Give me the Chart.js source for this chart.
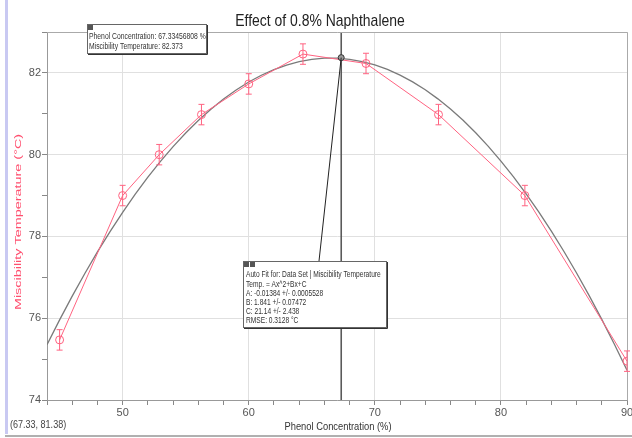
<!DOCTYPE html>
<html><head><meta charset="utf-8">
<script src="https://cdn.jsdelivr.net/npm/chart.js@4.4.1/dist/chart.umd.min.js"></script>
<style>html,body{margin:0;padding:0;background:#fff}#wrap{width:632px;height:438px;position:relative}canvas{display:block}</style>
</head><body><div id="wrap"><canvas id="c" width="632" height="438"></canvas></div>
<script>
// ---- data ----
const phenolConc = [45.0, 50.0, 52.9, 56.25, 60.0, 64.3, 69.3, 75.05, 81.9, 90.0];
const missTemp   = [75.47, 79.0, 80.0, 80.98, 81.73, 82.46, 82.23, 80.98, 79.0, 74.95];
const tempErr    = [0.25, 0.25, 0.25, 0.25, 0.25, 0.25, 0.25, 0.25, 0.25, 0.25];
// quadratic auto-fit coefficients printed on the chart
const fitA = -0.01384, fitB = 1.841, fitC = 21.14;
const fitXs = [44,45,46,47,48,49,50,51,52,53,54,55,56,57,58,59,60,61,62,63,64,65,66,67,68,69,70,71,72,73,74,75,76,77,78,79,80,81,82,83,84,85,86,87,88,89,90];
const cursorX = 67.33456808, cursorY = 82.373;
const xMajorTicks = [50, 60, 70, 80, 90];
const yMajorTicks = [74, 76, 78, 80, 82];
const titleText = 'Effect of 0.8% Naphthalene';
const xTitle = 'Phenol Concentration (%)';
const yTitle = 'Miscibility Temperature (°C)';
const cursorLines = ['Phenol Concentration: 67.33456808 %', 'Miscibility Temperature: 82.373'];
const fitLines = ['Auto Fit for: Data Set | Miscibility Temperature', 'Temp. = Ax^2+Bx+C', 'A: -0.01384 +/- 0.0005528', 'B: 1.841 +/- 0.07472', 'C: 21.14 +/- 2.438', 'RMSE: 0.3128 °C'];
const coordText = '(67.33, 81.38)';

const RED = '#ff6381';
const fitData = fitXs.map(x => ({x: x, y: fitA * x * x + fitB * x + fitC}));
const seriesData = phenolConc.map((x, i) => ({x: x, y: missTemp[i]}));

function txt(ctx, s, x, y, size, color, align, sx) {
  ctx.save();
  ctx.translate(x, y);
  ctx.scale(sx, 1);
  ctx.font = size + 'px Arial, "Liberation Sans", sans-serif';
  ctx.fillStyle = color;
  ctx.textAlign = align;
  ctx.textBaseline = 'middle';
  ctx.fillText(s, 0, 0);
  ctx.restore();
}
function box(ctx, l, t, r, b, icons) {
  ctx.save();
  ctx.fillStyle = '#fff';
  ctx.fillRect(l, t, r - l, b - t);
  ctx.strokeStyle = '#666';
  ctx.lineWidth = 1;
  ctx.strokeRect(l + 0.5, t + 0.5, r - l, b - t);
  ctx.strokeStyle = '#333';
  ctx.beginPath();
  ctx.moveTo(r + 1.5, t + 1); ctx.lineTo(r + 1.5, b + 1.5); ctx.lineTo(l + 1, b + 1.5);
  ctx.stroke();
  ctx.fillStyle = '#555';
  for (let i = 0; i < icons; i++) ctx.fillRect(l + 1 + i * 6, t + 1, 5, 5);
  ctx.restore();
}

const decor = {
  id: 'decor',
  beforeDraw(chart) {
    const ctx = chart.ctx;
    ctx.save();
    ctx.fillStyle = '#fff';
    ctx.fillRect(0, 0, chart.width, chart.height);
    ctx.fillStyle = '#c9c9f2';
    ctx.fillRect(5, 0, 3, 434);
    ctx.fillStyle = '#b0b0b0';
    ctx.fillRect(5, 435, chart.width - 5, 2);
    ctx.restore();
  },
  afterDatasetsDraw(chart) {
    const ctx = chart.ctx, xs = chart.scales.x, ys = chart.scales.y, ca = chart.chartArea;
    ctx.save();
    // frame top/right
    ctx.strokeStyle = '#aaa';
    ctx.lineWidth = 1;
    ctx.beginPath();
    ctx.moveTo(ca.left, ca.top + 0.5); ctx.lineTo(ca.right + 0.5, ca.top + 0.5); ctx.lineTo(ca.right + 0.5, ca.bottom);
    ctx.stroke();
    // error bars
    ctx.strokeStyle = RED;
    ctx.lineWidth = 1;
    phenolConc.forEach((x, i) => {
      const px = xs.getPixelForValue(x);
      const y1 = ys.getPixelForValue(missTemp[i] + tempErr[i]);
      const y2 = ys.getPixelForValue(missTemp[i] - tempErr[i]);
      ctx.beginPath();
      ctx.moveTo(px, y1); ctx.lineTo(px, y2);
      ctx.moveTo(px - 3, y1); ctx.lineTo(px + 3, y1);
      ctx.moveTo(px - 3, y2); ctx.lineTo(px + 3, y2);
      ctx.stroke();
    });
    // connector from fit box to cursor point
    const cpx = xs.getPixelForValue(cursorX), cpy = ys.getPixelForValue(cursorY);
    ctx.strokeStyle = '#222';
    ctx.beginPath();
    ctx.moveTo(319, 261); ctx.lineTo(cpx, cpy);
    ctx.stroke();
    ctx.restore();
  },
  afterDraw(chart) {
    const ctx = chart.ctx;
    // title
    txt(ctx, titleText, 320, 21, 17, '#222', 'center', 0.82);
    // axis titles
    txt(ctx, xTitle, 338, 427, 11, '#333', 'center', 0.85);
    txt(ctx, coordText, 10, 425, 11, '#444', 'left', 0.82);
    ctx.save();
    ctx.translate(18, 222);
    ctx.rotate(-Math.PI / 2);
    ctx.scale(1.2, 0.78);
    ctx.font = '12px Arial, "Liberation Sans", sans-serif';
    ctx.fillStyle = '#ff4f6f';
    ctx.textAlign = 'center';
    ctx.textBaseline = 'middle';
    ctx.fillText(yTitle, 0, 0);
    ctx.restore();
    // cursor readout box
    box(ctx, 87, 24, 206, 53, 1);
    cursorLines.forEach((s, i) => txt(ctx, s, 89, 37 + i * 10, 8.5, '#333', 'left', 0.8));
    // fit box
    box(ctx, 243, 261, 386, 327, 2);
    fitLines.forEach((s, i) => txt(ctx, s, 246, 275 + i * 9.2, 8.5, '#333', 'left', 0.78));
  }
};

new Chart(document.getElementById('c'), {
  type: 'scatter',
  data: {
    datasets: [
      { label: 'fit', data: fitData, showLine: true, borderColor: '#7a7a7a', borderWidth: 1.3, pointRadius: 0, tension: 0, order: 3 },
      { label: 'Miscibility Temperature', data: seriesData, showLine: true, borderColor: RED, borderWidth: 1,
        pointRadius: 4, pointBorderColor: RED, pointBackgroundColor: 'rgba(255,255,255,0)', pointBorderWidth: 1, order: 2 },
      { label: 'cursor', data: [{x: cursorX, y: 74}, {x: cursorX, y: 83}], showLine: true, borderColor: '#5a5a5a', borderWidth: 1.6, pointRadius: 0, order: 1 },
      { label: 'cursorPt', data: [{x: cursorX, y: cursorY}], pointRadius: 3, pointBorderColor: '#333', pointBackgroundColor: '#999', pointBorderWidth: 1, order: 0 }
    ]
  },
  options: {
    responsive: false,
    animation: false,
    devicePixelRatio: 1,
    layout: { padding: { top: 32, right: 3, left: 0, bottom: 0 } },
    plugins: { legend: { display: false }, title: { display: false }, tooltip: { enabled: false } },
    scales: {
      x: {
        type: 'linear', min: 44, max: 90,
        ticks: { stepSize: 2, autoSkip: false, maxRotation: 0, padding: 1, color: '#555',
          font: { family: 'Arial', size: 11 },
          callback: v => xMajorTicks.includes(v) ? String(v) : '' },
        grid: { color: c => (c.tick && xMajorTicks.includes(c.tick.value)) ? '#e0e0e0' : 'rgba(0,0,0,0)',
          tickColor: '#888', tickLength: 5, lineWidth: 1 },
        border: { color: '#999', width: 1 },
        afterFit: s => { s.height = 38; s.paddingLeft = 0; s.paddingRight = 0; }
      },
      y: {
        type: 'linear', min: 74, max: 83,
        ticks: { stepSize: 1, autoSkip: false, padding: 1, color: '#555',
          font: { family: 'Arial', size: 11 },
          callback: v => yMajorTicks.includes(v) ? String(v) : '' },
        grid: { color: c => (c.tick && yMajorTicks.includes(c.tick.value)) ? '#e0e0e0' : 'rgba(0,0,0,0)',
          tickColor: '#888', tickLength: 5, lineWidth: 1 },
        border: { color: '#999', width: 1 },
        afterFit: s => { s.width = 47; s.paddingTop = 0; s.paddingBottom = 0; }
      }
    }
  },
  plugins: [decor]
});
</script>
</body></html>
